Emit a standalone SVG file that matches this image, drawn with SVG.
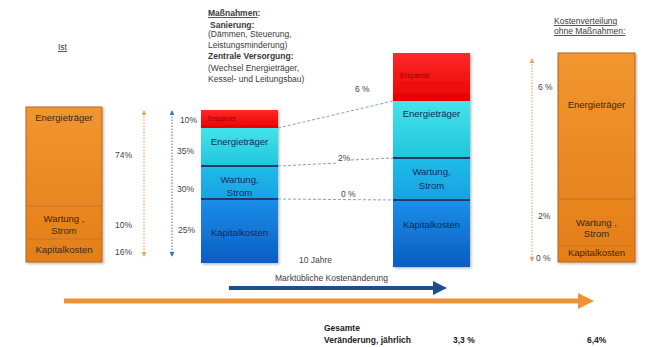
<svg xmlns="http://www.w3.org/2000/svg" width="647" height="347" viewBox="0 0 647 347">
<defs>
<style>
text{font-family:"Liberation Sans",Arial,sans-serif;}
.hd{font-size:8.5px;fill:#3a3a3a;}
.hb{font-size:8.5px;fill:#3a3a3a;font-weight:bold;}
.pc{font-size:8.5px;fill:#444;}
.lbo{font-size:9.5px;fill:#3a2a12;text-anchor:middle;}
.lbb{font-size:9.5px;fill:#0d2b5c;text-anchor:middle;}
.ers{font-size:6.5px;fill:#9a0000;}
.bt{font-size:8.5px;fill:#222;font-weight:bold;}
.obar{fill:url(#gOr);stroke:#b8651c;stroke-width:1;}
.odiv{stroke:#c87524;stroke-width:1;}
.bdiv{stroke:#1f3a6a;stroke-width:2;}
.dash{stroke:#7ea3d6;stroke-width:1;stroke-dasharray:3 2;fill:none;}
.vo{stroke:#f3a25a;stroke-width:1.2;stroke-dasharray:1.5 1.5;}
.vb{stroke:#5a86cf;stroke-width:1.2;stroke-dasharray:1.5 1.5;}
</style>
<linearGradient id="gOr" x1="0" y1="0" x2="0" y2="1">
<stop offset="0" stop-color="#f19630"/><stop offset="1" stop-color="#e47e18"/>
</linearGradient>
<linearGradient id="gRed" x1="0" y1="0" x2="0" y2="1">
<stop offset="0" stop-color="#ff2a2a"/><stop offset="1" stop-color="#e80000"/>
</linearGradient>
<linearGradient id="gCy" x1="0" y1="0" x2="0" y2="1">
<stop offset="0" stop-color="#45e3ea"/><stop offset="1" stop-color="#1fc6dc"/>
</linearGradient>
<linearGradient id="gMid" x1="0" y1="0" x2="0" y2="1">
<stop offset="0" stop-color="#20bce8"/><stop offset="1" stop-color="#17a2e3"/>
</linearGradient>
<linearGradient id="gBl" x1="0" y1="0" x2="0" y2="1">
<stop offset="0" stop-color="#1b8fe8"/><stop offset="1" stop-color="#0c5cc2"/>
</linearGradient>
<filter id="sh" x="-10%" y="-5%" width="125%" height="115%">
<feDropShadow dx="1.5" dy="1.5" stdDeviation="1" flood-color="#000" flood-opacity="0.25"/>
</filter>
<marker id="aO" viewBox="0 0 6 6" refX="5" refY="3" markerWidth="5" markerHeight="5" orient="auto-start-reverse" markerUnits="userSpaceOnUse">
<path d="M0,0 L6,3 L0,6 Z" fill="#f3a25a"/>
</marker>
<marker id="aB" viewBox="0 0 6 6" refX="5" refY="3" markerWidth="5" markerHeight="5" orient="auto-start-reverse" markerUnits="userSpaceOnUse">
<path d="M0,0 L6,3 L0,6 Z" fill="#3f6fc4"/>
</marker>
</defs>
<rect width="647" height="347" fill="#ffffff"/>

<g id="header-ist">
<text class="hd" x="58" y="50" text-decoration="underline">Ist</text>
</g>
<g id="header-massnahmen">
<text class="hb" x="208" y="16"><tspan text-decoration="underline">Maßnahmen</tspan>:</text>
<text class="hb" x="210" y="28">Sanierung:</text>
<text class="hd" x="208" y="37">(Dämmen,  Steuerung,</text>
<text class="hd" x="208" y="48">Leistungsminderung)</text>
<text class="hb" x="208" y="59">Zentrale Versorgung:</text>
<text class="hd" x="208" y="71">(Wechsel Energieträger,</text>
<text class="hd" x="208" y="82">Kessel- und Leitungsbau)</text>
</g>
<g id="header-kosten">
<text class="hd" x="554" y="24" text-decoration="underline">Kostenverteilung</text>
<text class="hd" x="554" y="34" text-decoration="underline">ohne Maßnahmen:</text>
</g>

<g id="bar-ist">
<rect class="obar" x="26" y="107" width="76" height="155" filter="url(#sh)"/>
<line class="odiv" x1="26" y1="206" x2="102" y2="206"/>
<line class="odiv" x1="26" y1="239" x2="102" y2="239"/>
<text class="lbo" x="64" y="121">Energieträger</text>
<text class="lbo" x="64" y="222">Wartung ,</text>
<text class="lbo" x="64" y="234">Strom</text>
<text class="lbo" x="64" y="253">Kapitalkosten</text>
<text class="pc" x="115" y="158">74%</text>
<text class="pc" x="115" y="228">10%</text>
<text class="pc" x="115" y="255">16%</text>
</g>

<g id="bar-massnahmen">
<g filter="url(#sh)">
<rect x="201" y="110" width="77" height="18" fill="url(#gRed)"/>
<rect x="201" y="128" width="77" height="38" fill="url(#gCy)"/>
<rect x="201" y="166" width="77" height="33" fill="url(#gMid)"/>
<rect x="201" y="199" width="77" height="64" fill="url(#gBl)"/>
</g>
<line class="bdiv" x1="201" y1="166" x2="278" y2="166"/>
<line class="bdiv" x1="201" y1="199" x2="278" y2="199"/>
<text class="ers" x="208" y="121">Ersparnis</text>
<text class="lbb" x="239.5" y="145">Energieträger</text>
<text class="lbb" x="239.5" y="183">Wartung,</text>
<text class="lbb" x="239.5" y="196">Strom</text>
<text class="lbb" x="239.5" y="236">Kapitalkosten</text>
<text class="pc" x="180" y="123">10%</text>
<text class="pc" x="177" y="154">35%</text>
<text class="pc" x="177" y="192">30%</text>
<text class="pc" x="178" y="233">25%</text>
<text class="pc" x="299" y="263">10 Jahre</text>
</g>

<g id="bar-10jahre">
<g filter="url(#sh)">
<rect x="393" y="53" width="77" height="48" fill="url(#gRed)"/>
<rect x="393" y="101" width="77" height="57" fill="url(#gCy)"/>
<rect x="393" y="158" width="77" height="42" fill="url(#gMid)"/>
<rect x="393" y="200" width="77" height="67" fill="url(#gBl)"/>
</g>
<line class="bdiv" x1="393" y1="158" x2="470" y2="158"/>
<line class="bdiv" x1="393" y1="200" x2="470" y2="200"/>
<text class="ers" x="400" y="78" style="font-size:7px">Ersparnis</text>
<text class="lbb" x="431.5" y="117">Energieträger</text>
<text class="lbb" x="431.5" y="175">Wartung,</text>
<text class="lbb" x="431.5" y="189">Strom</text>
<text class="lbb" x="431.5" y="228">Kapitalkosten</text>
<text class="pc" x="355" y="92">6 %</text>
<text class="pc" x="338" y="161">2%</text>
<text class="pc" x="341" y="197">0 %</text>
</g>

<g id="bar-ohne">
<rect class="obar" x="558" y="53" width="77" height="209" filter="url(#sh)"/>
<line class="odiv" x1="558" y1="199" x2="635" y2="199"/>
<line class="odiv" x1="558" y1="246" x2="635" y2="246"/>
<text class="lbo" x="596.5" y="108">Energieträger</text>
<text class="lbo" x="596.5" y="226">Wartung ,</text>
<text class="lbo" x="596.5" y="237">Strom</text>
<text class="lbo" x="596.5" y="256">Kapitalkosten</text>
<text class="pc" x="538" y="90">6 %</text>
<text class="pc" x="538" y="219">2%</text>
<text class="pc" x="536" y="261">0 %</text>
</g>

<g id="connectors">
<line class="vo" x1="144" y1="256" x2="144" y2="111" marker-start="url(#aO)" marker-end="url(#aO)"/>
<line class="vb" x1="172" y1="256" x2="172" y2="111" marker-start="url(#aB)" marker-end="url(#aB)"/>
<line class="vo" x1="532" y1="261" x2="532" y2="59" marker-start="url(#aO)" marker-end="url(#aO)"/>
<line class="dash" x1="278" y1="128" x2="393" y2="101"/>
<line class="dash" x1="278" y1="166" x2="338" y2="163"/>
<line class="dash" x1="351" y1="160" x2="393" y2="158"/>
<line class="dash" x1="278" y1="199" x2="393" y2="200"/>
<g id="arrow-markt">
<line x1="229" y1="288" x2="434" y2="288" stroke="#1f4e8c" stroke-width="4"/>
<polygon points="433,281 447,288 433,295" fill="#1f4e8c"/>
<text class="hd" x="275" y="281">Marktübliche Kostenänderung</text>
</g>
<g id="arrow-gesamt">
<line x1="64" y1="301" x2="579" y2="301" stroke="#f0923a" stroke-width="5"/>
<polygon points="578,293 594,301 578,309" fill="#f0923a"/>
</g>
</g>

<g id="summary">
<text class="bt" x="324" y="331">Gesamte</text>
<text class="bt" x="324" y="343">Veränderung, jährlich</text>
<text class="bt" x="453" y="343">3,3 %</text>
<text class="bt" x="587" y="343">6,4%</text>
</g>
</svg>
